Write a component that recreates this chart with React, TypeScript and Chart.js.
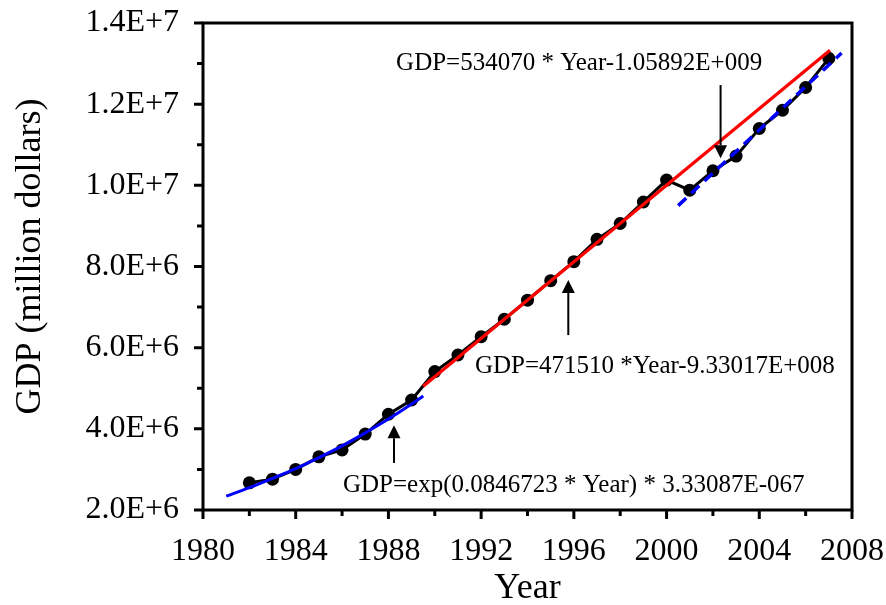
import React, { useEffect, useRef } from 'react';
import { Chart, registerables } from 'chart.js';

Chart.register(...registerables);

// ---- data ----
const years = [1982, 1983, 1984, 1985, 1986, 1987, 1988, 1989, 1990, 1991, 1992, 1993, 1994,
  1995, 1996, 1997, 1998, 1999, 2000, 2001, 2002, 2003, 2004, 2005, 2006, 2007];
const gdp = [2.67e6, 2.76e6, 3.0e6, 3.31e6, 3.48e6, 3.87e6, 4.36e6, 4.71e6, 5.41e6, 5.82e6, 6.27e6,
  6.70e6, 7.17e6, 7.65e6, 8.12e6, 8.67e6, 9.06e6, 9.59e6, 10.13e6, 9.88e6, 10.36e6, 10.72e6,
  11.40e6, 11.85e6, 12.41e6, 13.13e6];

const expFitYears = [1981, 1982, 1983, 1984, 1985, 1986, 1987, 1988, 1989, 1989.5];
const expFitValues = [2.34e6, 2.55e6, 2.78e6, 3.02e6, 3.29e6, 3.58e6, 3.9e6, 4.24e6, 4.61e6, 4.81e6];

const linFitAYears = [1989.5, 2007.05];
const linFitAValues = [5.05e6, 13.33e6];

const linFitBYears = [2000.5, 2007.55];
const linFitBValues = [9.5e6, 13.26e6];

const xMin = 1980;
const xMax = 2008;
const xMajorStep = 4;
const xMinorStep = 2;
const yMin = 2e6;
const yMax = 1.4e7;
const yMajorStep = 2e6;
const yMinorStep = 1e6;

const xTitle = 'Year';
const yTitle = 'GDP (million dollars)';

const noteTexts = [
  'GDP=534070 * Year-1.05892E+009',
  'GDP=471510 *Year-9.33017E+008',
  'GDP=exp(0.0846723 * Year) * 3.33087E-067',
];
const noteX = [1988.33, 1991.73, 1986.04];
const noteY = [13.01e6, 5.53e6, 2.6e6];

const arrowX = [2002.33, 1995.76, 1988.24];
const arrowFrom = [12.47e6, 6.31e6, 3.16e6];
const arrowTip = [10.67e6, 7.665e6, 4.09e6];

const FONT = '"Liberation Serif", "Times New Roman", serif';

const toXY = (xs: number[], ys: number[]) => xs.map((x, i) => ({ x, y: ys[i] }));

const overlayPlugin = {
  id: 'overlay',
  afterDraw(chart: any) {
    const { ctx, chartArea: a, scales } = chart;
    const sx = scales.x;
    const sy = scales.y;
    ctx.save();
    ctx.strokeStyle = '#000';
    ctx.fillStyle = '#000';
    ctx.lineWidth = 3;
    ctx.lineCap = 'butt';
    ctx.strokeRect(a.left, a.top, a.right - a.left, a.bottom - a.top);

    // tick marks (outward)
    ctx.beginPath();
    const nx = Math.round((xMax - xMin) / xMinorStep);
    for (let i = 0; i <= nx; i++) {
      const v = xMin + i * xMinorStep;
      const px = sx.getPixelForValue(v);
      const len = (v - xMin) % xMajorStep === 0 ? 9 : 6;
      ctx.moveTo(px, a.bottom);
      ctx.lineTo(px, a.bottom + len);
    }
    const ny = Math.round((yMax - yMin) / yMinorStep);
    for (let i = 0; i <= ny; i++) {
      const v = yMin + i * yMinorStep;
      const py = sy.getPixelForValue(v);
      const len = Math.round((v - yMin) / yMinorStep) % Math.round(yMajorStep / yMinorStep) === 0 ? 9 : 6;
      ctx.moveTo(a.left, py);
      ctx.lineTo(a.left - len, py);
    }
    ctx.stroke();

    // arrows
    ctx.lineWidth = 2;
    for (let i = 0; i < arrowX.length; i++) {
      const px = sx.getPixelForValue(arrowX[i]);
      const p0 = sy.getPixelForValue(arrowFrom[i]);
      const p1 = sy.getPixelForValue(arrowTip[i]);
      const dir = p1 > p0 ? 1 : -1;
      const head = 13;
      ctx.beginPath();
      ctx.moveTo(px, p0);
      ctx.lineTo(px, p1 - dir * head);
      ctx.stroke();
      ctx.beginPath();
      ctx.moveTo(px, p1);
      ctx.lineTo(px - 6.5, p1 - dir * head);
      ctx.lineTo(px + 6.5, p1 - dir * head);
      ctx.closePath();
      ctx.fill();
    }

    // equation notes
    ctx.font = '25px ' + FONT;
    ctx.textAlign = 'left';
    ctx.textBaseline = 'middle';
    for (let i = 0; i < noteTexts.length; i++) {
      ctx.fillText(noteTexts[i], sx.getPixelForValue(noteX[i]), sy.getPixelForValue(noteY[i]));
    }

    // y axis title
    ctx.font = '36px ' + FONT;
    ctx.textAlign = 'center';
    ctx.translate(31, (a.top + a.bottom) / 2 - 10);
    ctx.rotate(-Math.PI / 2);
    ctx.fillText(yTitle, 0, 0);
    ctx.restore();
  },
};

export default function App() {
  const ref = useRef<HTMLCanvasElement | null>(null);

  useEffect(() => {
    if (!ref.current) return;
    const chart = new Chart(ref.current, {
      type: 'scatter',
      data: {
        datasets: [
          {
            label: 'Fit 1990-2007',
            data: toXY(linFitAYears, linFitAValues),
            showLine: true,
            borderColor: '#ff0000',
            borderWidth: 3.3,
            pointRadius: 0,
            order: 1,
          },
          {
            label: 'Fit 2001-2007',
            data: toXY(linFitBYears, linFitBValues),
            showLine: true,
            borderColor: '#0000ff',
            borderWidth: 3.5,
            borderDash: [11, 7],
            pointRadius: 0,
            order: 2,
          },
          {
            label: 'Fit 1982-1989',
            data: toXY(expFitYears, expFitValues),
            showLine: true,
            borderColor: '#0000ff',
            borderWidth: 3,
            pointRadius: 0,
            tension: 0.4,
            cubicInterpolationMode: 'monotone',
            order: 2,
          },
          {
            label: 'GDP',
            data: toXY(years, gdp),
            showLine: true,
            borderColor: '#000000',
            backgroundColor: '#000000',
            borderWidth: 3,
            pointRadius: 6.5,
            pointBorderWidth: 0,
            pointBackgroundColor: '#000000',
            order: 3,
          },
        ],
      } as any,
      options: {
        animation: false,
        responsive: false,
        maintainAspectRatio: false,
        layout: { padding: { top: 23, right: 34, left: 0, bottom: 0 } },
        plugins: {
          legend: { display: false },
          tooltip: { enabled: false },
        },
        scales: {
          x: {
            type: 'linear',
            min: xMin,
            max: xMax,
            ticks: {
              stepSize: xMajorStep,
              autoSkip: false,
              maxRotation: 0,
              padding: 22,
              color: '#000',
              font: { family: FONT, size: 32 },
              callback: (v: any) => String(v),
            },
            grid: { display: false, drawTicks: false },
            border: { display: false },
            title: {
              display: true,
              text: xTitle,
              color: '#000',
              font: { family: FONT, size: 36 },
              padding: { top: 0, bottom: -5 },
            },
            afterFit: (s: any) => {
              s.height = 95;
              s.paddingLeft = 0;
              s.paddingRight = 0;
            },
          },
          y: {
            type: 'linear',
            min: yMin,
            max: yMax,
            ticks: {
              stepSize: yMajorStep,
              padding: 24,
              color: '#000',
              font: { family: FONT, size: 32 },
              callback: (v: any) => Number(v).toExponential(1).toUpperCase(),
            },
            grid: { display: false, drawTicks: false },
            border: { display: false },
            afterFit: (s: any) => {
              s.width = 203;
              s.paddingTop = 0;
              s.paddingBottom = 0;
            },
          },
        },
      } as any,
      plugins: [overlayPlugin],
    });
    return () => chart.destroy();
  }, []);

  return (
    <div style={{ position: 'fixed', left: 0, top: 0, width: 886, height: 605, background: '#fff' }}>
      <canvas ref={ref} width={886} height={605} style={{ display: 'block' }} />
    </div>
  );
}
